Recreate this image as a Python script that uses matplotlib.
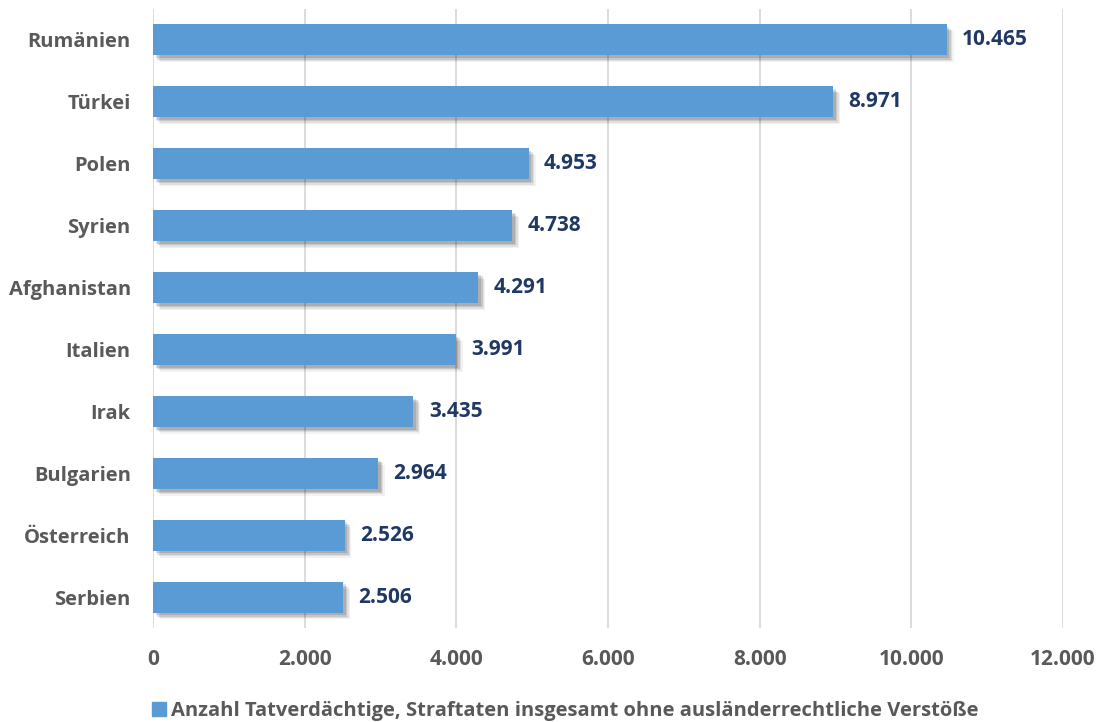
import matplotlib
matplotlib.use('Agg')
from matplotlib import pyplot as plt
from matplotlib import patheffects as pe
from matplotlib.ticker import FuncFormatter

laender = ['Rumänien', 'Türkei', 'Polen', 'Syrien', 'Afghanistan',
           'Italien', 'Irak', 'Bulgarien', 'Österreich', 'Serbien']
werte = [10465, 8971, 4953, 4738, 4291, 3991, 3435, 2964, 2526, 2506]
legende = 'Anzahl Tatverdächtige, Straftaten insgesamt ohne ausländerrechtliche Verstöße'

def de_fmt(v, pos=None):
    return f'{int(v):,}'.replace(',', '.')

plt.rcParams['font.family'] = ['Open Sans', 'DejaVu Sans']
fig = plt.figure(figsize=(11.02, 7.22), dpi=100)
ax = fig.add_axes([153/1102, 1 - 628/722, 910/1102, 619/722])

y = list(range(len(laender)))
# weicher Schatten unten rechts
shadow = [pe.SimplePatchShadow(offset=(o, -o), shadow_rgbFace='#000000', alpha=a)
          for o, a in [(5, 0.05), (4, 0.08), (3, 0.11), (2, 0.12)]] + [pe.Normal()]
bars = ax.barh(y, werte, height=0.5, color='#5B9BD5', zorder=3)
for b in bars:
    b.set_path_effects(shadow)

for yi, v in zip(y, werte):
    ax.annotate(de_fmt(v), (v, yi), xytext=(11, 0), textcoords='offset points',
                va='center', ha='left', fontsize=15, fontweight='bold',
                color='#203864')

ax.set_yticks(y)
ax.set_yticklabels(laender)
ax.set_ylim(len(laender) - 0.5, -0.5)
ax.set_xlim(0, 12000)
ax.set_xticks(range(0, 12001, 2000))
ax.xaxis.set_major_formatter(FuncFormatter(de_fmt))
ax.tick_params(axis='y', length=0, labelsize=14.5, labelcolor='#595959', pad=16)
ax.tick_params(axis='x', length=0, labelsize=15, labelcolor='#595959', pad=15)
for lbl in ax.get_xticklabels() + ax.get_yticklabels():
    lbl.set_fontweight('bold')
ax.grid(axis='x', color='#D9D9D9', linewidth=1.3, zorder=0)
for s in ax.spines.values():
    s.set_visible(False)

leg = ax.legend([plt.Rectangle((0, 0), 1, 1, color='#5B9BD5')], [legende],
                loc='center', bbox_to_anchor=(565/1102, 1 - 711/722),
                bbox_transform=fig.transFigure, frameon=False,
                handlelength=0.7, handleheight=0.7, handletextpad=0.25,
                prop={'size': 14.5, 'weight': 'bold'})
for t in leg.get_texts():
    t.set_color('#595959')

fig.savefig('out.png', dpi=100)
